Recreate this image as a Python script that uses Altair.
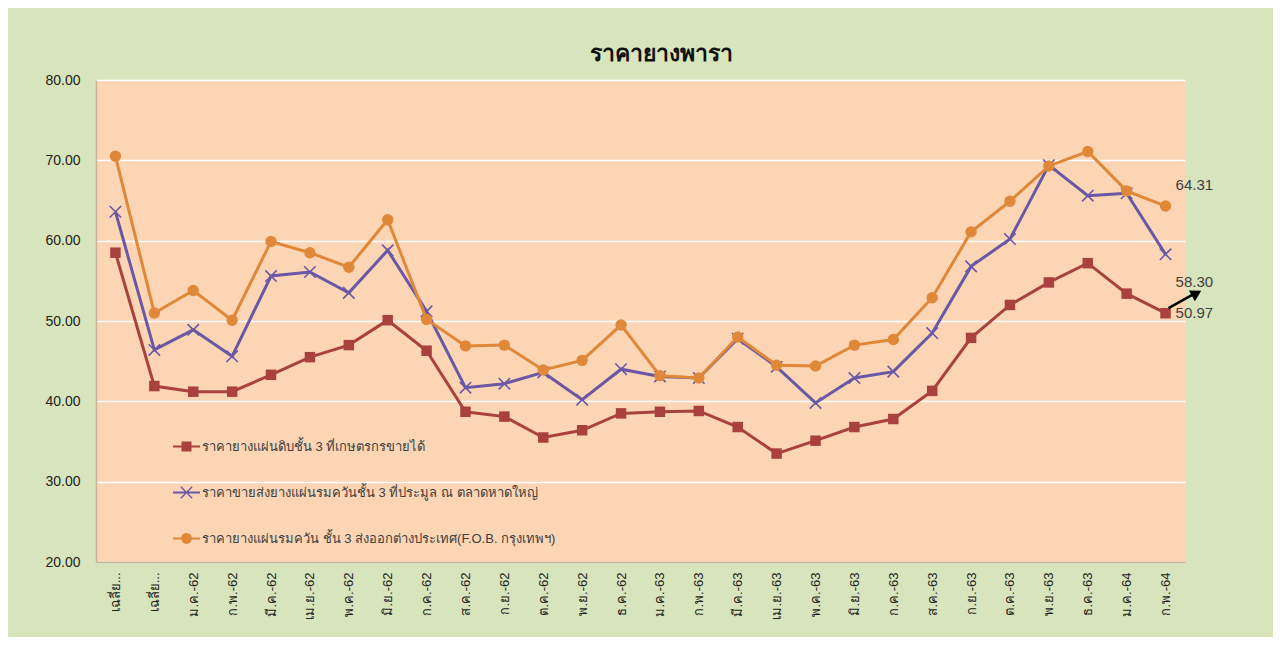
import altair as alt
import pandas as pd

categories = ["เฉลี่ยปี 2560", "เฉลี่ยปี 2561", "ม.ค.-62", "ก.พ.-62", "มี.ค.-62", "เม.ย.-62", "พ.ค.-62",
              "มิ.ย.-62", "ก.ค.-62", "ส.ค.-62", "ก.ย.-62", "ต.ค.-62", "พ.ย.-62", "ธ.ค.-62",
              "ม.ค.-63", "ก.พ.-63", "มี.ค.-63", "เม.ย.-63", "พ.ค.-63", "มิ.ย.-63", "ก.ค.-63",
              "ส.ค.-63", "ก.ย.-63", "ต.ค.-63", "พ.ย.-63", "ธ.ค.-63", "ม.ค.-64", "ก.พ.-64"]

series_names = [
    "ราคายางแผ่นดิบชั้น 3 ที่เกษตรกรขายได้",
    "ราคาขายส่งยางแผ่นรมควันชั้น 3 ที่ประมูล ณ ตลาดหาดใหญ่",
    "ราคายางแผ่นรมควัน ชั้น 3 ส่งออกต่างประเทศ(F.O.B. กรุงเทพฯ)",
]

raw_sheet = [58.5, 41.9, 41.2, 41.2, 43.3, 45.5, 47.0, 50.1, 46.3, 38.7, 38.1, 35.5, 36.4, 38.5,
             38.7, 38.8, 36.8, 33.5, 35.1, 36.8, 37.8, 41.3, 47.9, 52.0, 54.8, 57.2, 53.4, 50.97]
hatyai = [63.6, 46.4, 48.9, 45.6, 55.6, 56.1, 53.5, 58.8, 51.2, 41.7, 42.2, 43.6, 40.2, 44.0,
          43.1, 42.9, 47.8, 44.3, 39.8, 42.9, 43.7, 48.5, 56.8, 60.2, 69.4, 65.6, 65.9, 58.30]
fob = [70.5, 51.0, 53.8, 50.1, 59.9, 58.5, 56.7, 62.6, 50.2, 46.9, 47.0, 43.9, 45.1, 49.5,
       43.2, 42.9, 48.0, 44.5, 44.4, 47.0, 47.7, 52.9, 61.1, 64.9, 69.3, 71.1, 66.2, 64.31]

colors = ["#A9423F", "#6A58A6", "#E0883A"]

rows = []
for name, vals in zip(series_names, [raw_sheet, hatyai, fob]):
    for i, (c, v) in enumerate(zip(categories, vals)):
        rows.append({"series": name, "month": c, "idx": i, "value": v,
                     "label": f"{v:.2f}", "last": i == len(categories) - 1})
df = pd.DataFrame(rows)

FONT = "Tahoma, Liberation Sans, Noto Sans"

x_enc = alt.X("month:N", sort=categories,
              scale=alt.Scale(type="point", padding=0.5),
              axis=alt.Axis(title=None, labelAngle=-90, labelPadding=10, ticks=False,
                            labelFontSize=13, labelColor="#222222", labelFont=FONT,
                            domainColor="#C9B49E", domainWidth=1.5, grid=False,
                            labelExpr="indexof(datum.label, 'เฉลี่ย') == 0 ? 'เฉลี่ย...' : datum.label"))
y_enc = alt.Y("value:Q", scale=alt.Scale(domain=[20, 80], nice=False, zero=False),
              axis=alt.Axis(title=None, values=[20, 30, 40, 50, 60, 70, 80], format=".2f",
                            ticks=False, labelPadding=16, labelFontSize=14, labelColor="#222222",
                            labelFont=FONT, grid=True, gridColor="#FFFFFF", gridWidth=1.3,
                            domainColor="#C9B49E", domainWidth=1.5))

base = alt.Chart(df)

layers = []
shapes = ["square", "M-1,-1L1,1M-1,1L1,-1", "circle"]
sizes = [110, 130, 130]
for k, name in enumerate(series_names):
    sub = base.transform_filter(alt.datum.series == name)
    layers.append(sub.mark_line(color=colors[k], strokeWidth=3).encode(x=x_enc, y=y_enc))
    if k == 1:
        layers.append(sub.mark_point(shape=shapes[k], size=sizes[k], color=colors[k],
                                     filled=False, strokeWidth=1.6, opacity=1)
                      .encode(x=x_enc, y=y_enc))
    else:
        layers.append(sub.mark_point(shape=shapes[k], size=sizes[k], color=colors[k],
                                     filled=True, opacity=1)
                      .encode(x=x_enc, y=y_enc))

# legend-only layer (no marks drawn, legend symbols show line + marker)
bar = "M-1,-0.07H1V0.07H-1Z"
legend_paths = [
    bar + "M-0.37,-0.37H0.37V0.37H-0.37Z",
    bar + "M-0.385,-0.455L0.455,0.385L0.385,0.455L-0.455,-0.385Z"
          "M-0.455,0.385L0.385,-0.455L0.455,-0.385L-0.385,0.455Z",
    bar + "M-0.4,0A0.4,0.4 0 1,1 0.4,0A0.4,0.4 0 1,1 -0.4,0Z",
]
legend_layer = base.transform_filter("false").mark_point(filled=True, opacity=1).encode(
    x=x_enc, y=y_enc,
    color=alt.Color("series:N", scale=alt.Scale(domain=series_names, range=colors),
                    legend=alt.Legend(title=None, orient="none", legendX=77, legendY=353,
                                      direction="vertical", symbolSize=729, symbolOpacity=1,
                                      symbolStrokeWidth=0, rowPadding=25, labelOffset=2,
                                      labelFontSize=13, labelColor="#404040", labelFont=FONT,
                                      labelLimit=800, padding=0)),
    shape=alt.Shape("series:N", scale=alt.Scale(domain=series_names, range=legend_paths)),
)
layers.append(legend_layer)

# data labels on last points
dys = [0, 28, -21]
for k, name in enumerate(series_names):
    lab = base.transform_filter((alt.datum.series == name) & (alt.datum.last == True)).mark_text(
        align="left", baseline="middle", dx=10, dy=dys[k], fontSize=15, color="#404040",
        font="Liberation Sans"
    ).encode(x=x_enc, y=y_enc, text="label:N")
    layers.append(lab)

# arrow pointing from the red last point toward the 58.30 label
last_red = base.transform_filter((alt.datum.series == series_names[0]) & (alt.datum.last == True))
layers.append(last_red.mark_rule(color="black", strokeWidth=2.5, xOffset=3, x2Offset=28,
                                 yOffset=-5, y2Offset=-19)
              .encode(x=x_enc, x2="month:N", y=y_enc, y2="value:Q"))
layers.append(last_red.mark_point(shape="triangle-up", filled=True, color="black", size=150,
                                  angle=61, xOffset=31, yOffset=-20, opacity=1)
              .encode(x=x_enc, y=y_enc))

chart = alt.layer(*layers).properties(
    width=1089, height=482,
    title=alt.TitleParams("ราคายางพารา", fontSize=23, fontWeight="bold", font=FONT,
                          color="#111111", anchor="middle", dx=21, offset=7),
    autosize=alt.AutoSizeParams(type="none"),
    padding={"left": 88, "right": 88, "top": 72, "bottom": 75},
    background="#D8E4BC",
).configure_view(fill="#FCD5B4", stroke=None)

chart.save("out.html", embed_options={"renderer": "svg", "actions": False})
